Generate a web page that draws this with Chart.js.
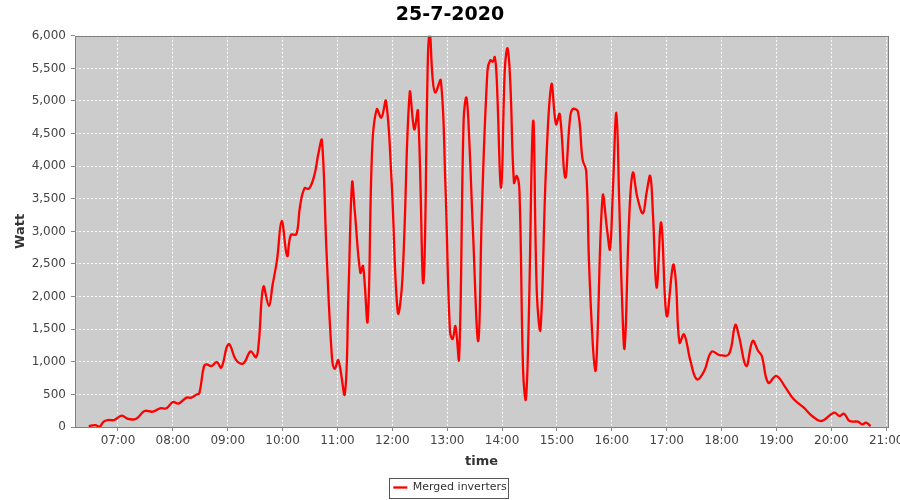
<!DOCTYPE html>
<html>
<head>
<meta charset="utf-8">
<script src="https://cdn.jsdelivr.net/npm/chart.js@4.4.0/dist/chart.umd.min.js"></script>
<style>
  html, body { margin: 0; padding: 0; background: #fff; }
</style>
</head>
<body>
<canvas id="myChart" width="900" height="500"></canvas>
<script>
// readings of the merged inverters, 25-7-2020
const times = [
  "06:28", "06:35", "06:40", "06:44", "06:49", "06:56", "07:04", "07:11", "07:20", "07:29",
  "07:38", "07:46", "07:53", "08:00", "08:06", "08:15", "08:20", "08:26", "08:29", "08:34",
  "08:37", "08:42", "08:48", "08:53", "08:59", "09:02", "09:09", "09:17", "09:25", "09:31",
  "09:34", "09:39", "09:45", "09:49", "09:54", "09:59", "10:05", "10:09", "10:15", "10:19",
  "10:24", "10:29", "10:35", "10:39", "10:43", "10:48", "10:54", "10:57", "11:01", "11:08",
  "11:12", "11:16", "11:19", "11:25", "11:28", "11:33", "11:38", "11:43", "11:48", "11:53",
  "11:59", "12:06", "12:11", "12:19", "12:24", "12:28", "12:34", "12:39", "12:41", "12:44",
  "12:47", "12:53", "12:58", "13:03", "13:06", "13:09", "13:13", "13:18", "13:21", "13:24",
  "13:28", "13:34", "13:38", "13:44", "13:47", "13:50", "13:52", "13:54", "13:59", "14:03",
  "14:06", "14:09", "14:13", "14:16", "14:19", "14:23", "14:26", "14:29", "14:34", "14:38",
  "14:42", "14:48", "14:54", "14:59", "15:03", "15:09", "15:14", "15:17", "15:23", "15:28",
  "15:32", "15:35", "15:39", "15:42", "15:44", "15:50", "15:55", "15:58", "16:01", "16:05",
  "16:08", "16:11", "16:14", "16:19", "16:23", "16:28", "16:34", "16:38", "16:42", "16:45",
  "16:49", "16:54", "17:00", "17:07", "17:10", "17:14", "17:19", "17:26", "17:33", "17:41",
  "17:49", "17:58", "18:08", "18:15", "18:19", "18:27", "18:34", "18:40", "18:44", "18:51",
  "19:00", "19:10", "19:19", "19:30", "19:39", "19:49", "20:03", "20:09", "20:14", "20:20",
  "20:29", "20:34", "20:38", "20:43",
];

const watts = [
  15, 30, 5, 80, 107, 107, 175, 123, 127, 245,
  235, 287, 287, 383, 358, 450, 450, 500, 520, 930,
  962, 935, 995, 910, 1227, 1268, 1030, 975, 1160, 1070,
  1300, 2152, 1856, 2173, 2572, 3160, 2623, 2945, 2955, 3379,
  3661, 3655, 3876, 4182, 4397, 2699, 1063, 894, 1023, 505,
  2035, 3750, 3300, 2367, 2469, 1626, 4284, 4873, 4744, 5000,
  3824, 1753, 2265, 5128, 4566, 4847, 2213, 5716, 6050, 5357,
  5128, 5317, 3722, 1472, 1350, 1545, 1038, 4719, 5051, 4437,
  3057, 1319, 3363, 5460, 5624, 5603, 5675, 5383, 3670, 5486,
  5808, 5281, 3747, 3850, 3620, 859, 425, 1549, 4693, 2060,
  1498, 3952, 5256, 4643, 4800, 3824, 4693, 4873, 4836, 4106,
  3926, 2546, 1319, 859, 1268, 3543, 3006, 2726, 3569, 4821,
  3517, 2035, 1216, 3210, 3900, 3517, 3277, 3594, 3850, 3262,
  2137, 3134, 1703, 2485, 2239, 1293, 1422, 1012, 732, 859,
  1155, 1104, 1115, 1564, 1396, 935, 1319, 1166, 1089, 679,
  782, 603, 425, 296, 169, 92, 219, 169, 204, 92,
  81, 41, 66, 15,
];

const hourTicks = [7, 8, 9, 10, 11, 12, 13, 14, 15, 16, 17, 18, 19, 20, 21];

const FONT = "'DejaVu Sans', 'Liberation Sans', sans-serif";

// "HH:MM" -> hours as a decimal number
const toHours = (s) => {
  const [h, m] = s.split(":").map(Number);
  return h + m / 60;
};

const pad2 = (n) => String(n).padStart(2, "0");

// grey plot background and frame, like the original renderer
const plotFrame = {
  id: "plotFrame",
  beforeDraw(chart) {
    const { ctx, chartArea: a } = chart;
    ctx.save();
    ctx.fillStyle = "#cccccc";
    ctx.fillRect(a.left, a.top, a.right - a.left, a.bottom - a.top);
    ctx.restore();
  },
  afterDatasetsDraw(chart) {
    const { ctx, chartArea: a } = chart;
    ctx.save();
    ctx.strokeStyle = "#808080";
    ctx.lineWidth = 1;
    ctx.strokeRect(Math.round(a.left) + 0.5, Math.round(a.top) + 0.5,
      Math.round(a.right - a.left), Math.round(a.bottom - a.top));
    ctx.restore();
  },
};

// thin box round the legend item
const legendBox = {
  id: "legendBox",
  afterDraw(chart) {
    const hit = chart.legend && chart.legend.legendHitBoxes && chart.legend.legendHitBoxes[0];
    if (!hit) return;
    const { ctx } = chart;
    ctx.save();
    ctx.strokeStyle = "#555";
    ctx.lineWidth = 1;
    ctx.strokeRect(Math.round(hit.left - 4) + 0.5, Math.round(hit.top - 4) + 0.5,
      Math.round(hit.width + 6), Math.round(hit.height + 9));
    ctx.restore();
  },
};

const points = times.map((t, i) => ({ x: toHours(t), y: watts[i] }));

new Chart(document.getElementById("myChart").getContext("2d"), {
  type: "line",
  data: {
    datasets: [
      {
        label: "Merged inverters",
        data: points,
        borderColor: "#ff0000",
        backgroundColor: "#ff0000",
        borderWidth: 2.3,
        pointRadius: 0,
        tension: 0.4,
        fill: false,
      },
    ],
  },
  options: {
    responsive: false,
    animation: false,
    layout: { padding: { left: 0, right: 0, top: 0, bottom: -3 } },
    plugins: {
      title: {
        display: true,
        text: "25-7-2020",
        color: "#000",
        font: { family: FONT, size: 19, weight: "bold" },
        padding: { top: 4, bottom: 9 },
      },
      legend: {
        position: "bottom",
        labels: {
          color: "#333",
          font: { family: FONT, size: 11 },
          usePointStyle: true,
          pointStyle: "line",
          pointStyleWidth: 14,
          boxHeight: 11,
          padding: 0,
        },
      },
      tooltip: { enabled: false },
    },
    scales: {
      x: {
        type: "linear",
        min: toHours("06:13"),
        max: toHours("21:02"),
        afterBuildTicks: (axis) => {
          axis.ticks = hourTicks.map((v) => ({ value: v }));
        },
        afterFit: (scale) => {
          scale.paddingLeft = 0;
          scale.paddingRight = 12;
        },
        ticks: {
          autoSkip: false,
          maxRotation: 0,
          color: "#444",
          font: { family: FONT, size: 12 },
          padding: 3,
          callback: (v) => pad2(v) + ":00",
        },
        grid: {
          color: "rgba(255,255,255,0.95)",
          lineWidth: 1,
          tickColor: "#888",
          tickLength: 4,
          tickBorderDash: [],
        },
        border: { display: false, dash: [2, 2] },
        title: {
          display: true,
          text: "time",
          color: "#333",
          font: { family: FONT, size: 13, weight: "bold" },
          padding: { top: 2, bottom: 13 },
        },
      },
      y: {
        min: 0,
        max: 6000,
        afterFit: (scale) => {
          scale.width = 75;
          scale.paddingTop = 0;
          scale.paddingBottom = 0;
        },
        ticks: {
          stepSize: 500,
          color: "#444",
          font: { family: FONT, size: 12 },
          padding: 5,
        },
        grid: {
          color: "rgba(255,255,255,0.95)",
          lineWidth: 1,
          tickColor: "#888",
          tickLength: 4,
          tickBorderDash: [],
        },
        border: { display: false, dash: [2, 2] },
        title: {
          display: true,
          text: "Watt",
          color: "#333",
          font: { family: FONT, size: 13, weight: "bold" },
          padding: { top: 13, bottom: 4 },
        },
      },
    },
  },
  plugins: [plotFrame, legendBox],
});
</script>
</body>
</html>
